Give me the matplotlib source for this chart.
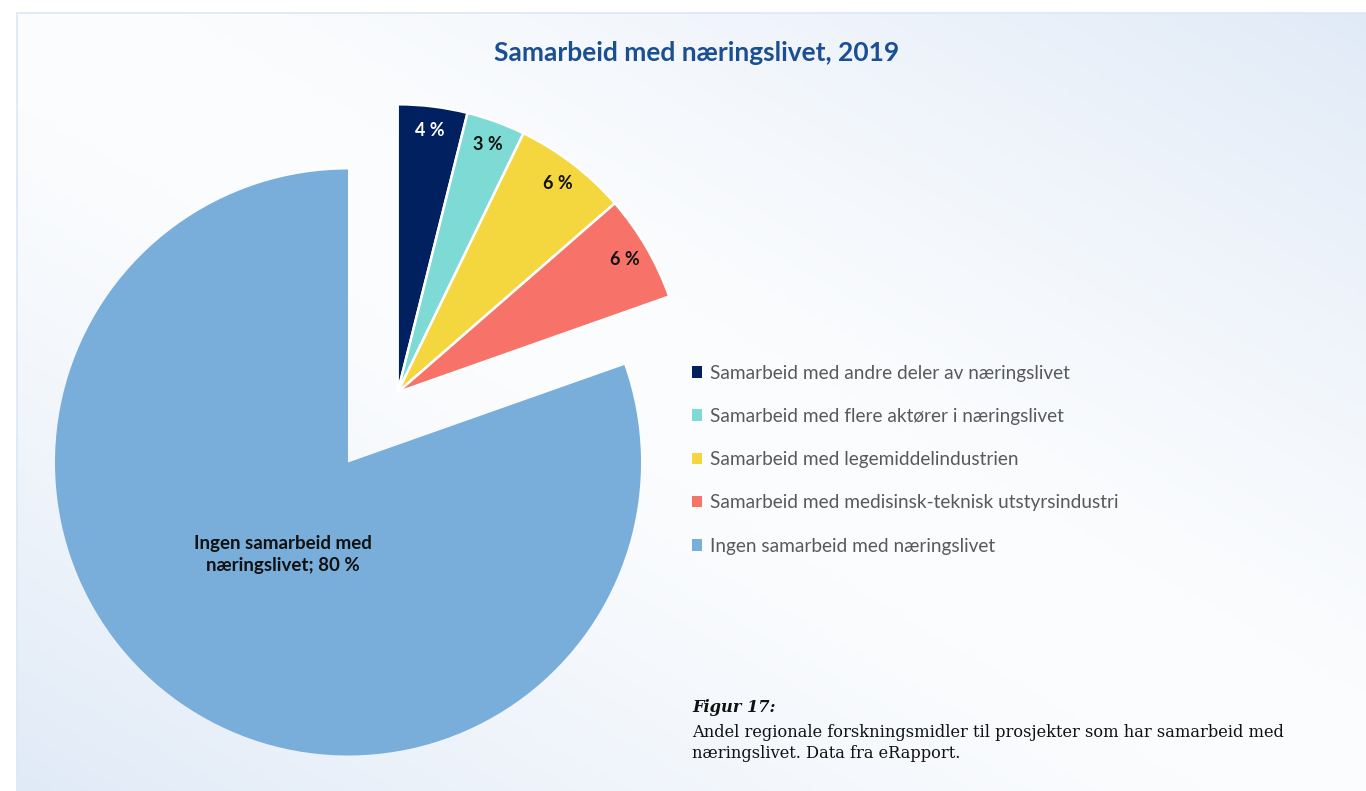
import numpy as np
import matplotlib
matplotlib.use("Agg")
import matplotlib.pyplot as plt
from matplotlib.patches import Patch, Rectangle

# data
categories = ["Samarbeid med andre deler av næringslivet",
              "Samarbeid med flere aktører i næringslivet",
              "Samarbeid med legemiddelindustrien",
              "Samarbeid med medisinsk-teknisk utstyrsindustri",
              "Ingen samarbeid med næringslivet"]
values = [3.9, 3.3, 6.4, 6.0, 80.4]
value_labels = ["4 %", "3 %", "6 %", "6 %", "Ingen samarbeid med\nnæringslivet; 80 %"]
colors = ["#002060", "#7ddad5", "#f4d63e", "#f7736a", "#78aed9"]
label_colors = ["white", "#111111", "#111111", "#111111", "#111111"]

W, H = 1366, 791
fig = plt.figure(figsize=(W / 100, H / 100), dpi=100)

# background gradient panel
bg = fig.add_axes([0, 0, 1, 1])
bg.set_xlim(0, W)
bg.set_ylim(0, H)
bg.axis("off")
yy, xx = np.mgrid[0:H:4, 0:W:4]
# top-right and bottom-left bluish, white band through the middle
u = ((W - xx) / W + (H - yy) / H) / 2.0
d = np.abs(2 * u - 1) ** 1.4
c0 = np.array([252, 253, 254]) / 255.0
c1 = np.array([224, 234, 247]) / 255.0
img = c0 + (c1 - c0) * d[..., None]
bg.imshow(img, extent=[17, W, 0, H - 13], origin="lower", aspect="auto", zorder=0)
bg.add_patch(Rectangle((17, -5), W, H - 13 + 5, fill=False, edgecolor="#dce7f5", lw=1.2, zorder=1))

ax = fig.add_axes([0, 0, 1, 1])
ax.set_xlim(0, W)
ax.set_ylim(0, H)
ax.patch.set_alpha(0)

radius = 293
center = (348, H - 462.5)
wedges, _ = ax.pie(values, colors=colors, startangle=90, counterclock=False,
                   radius=radius, center=center,
                   wedgeprops=dict(edgecolor="white", linewidth=1.8))
ax.set_xlim(0, W)
ax.set_ylim(0, H)
ax.axis("off")
wedges[4].set_linewidth(0)

# pull the four small slices out together along the group's middle angle
small = wedges[:4]
small_r = 288
g_lo = min(w.theta1 for w in small)
g_hi = max(w.theta2 for w in small)
g_mid = np.deg2rad((g_lo + g_hi) / 2)
shift = 86
off = np.array([np.cos(g_mid), np.sin(g_mid)]) * shift
for w in small:
    w.set_center((center[0] + off[0], center[1] + off[1]))
    w.set_radius(small_r)

for i, w in enumerate(wedges):
    mid = np.deg2rad((w.theta1 + w.theta2) / 2)
    cx, cy = w.center
    if i < 4:
        dist, fs = 0.915 * small_r, 13
    else:
        dist, fs = 0.385 * radius, 13.5
    ax.text(cx + dist * np.cos(mid), cy + dist * np.sin(mid),
            value_labels[i], ha="center", va="center", color=label_colors[i],
            fontsize=fs, fontweight="bold", family="Lato", linespacing=1.35)

fig.text(697 / W, 1 - 53 / H, "Samarbeid med næringslivet, 2019", ha="center", va="center",
         fontsize=19, fontweight="bold", color="#1b4f93", family="Lato")

handles = [Patch(facecolor=c, edgecolor="none") for c in colors]
leg = fig.legend(handles, categories, loc="upper left",
                 bbox_to_anchor=(684 / W, 1 - 357 / H), frameon=False,
                 fontsize=13.7, labelspacing=1.38, handlelength=0.55, handleheight=0.55,
                 handletextpad=0.4, borderaxespad=0)
for t in leg.get_texts():
    t.set_color("#595959")
    t.set_family("Lato")

fig.text(692 / W, 1 - 707 / H, "Figur 17:", ha="left", va="center", fontsize=11.7,
         fontweight="bold", fontstyle="italic", family="DejaVu Serif", color="#111111")
fig.text(692 / W, 1 - 743 / H,
         "Andel regionale forskningsmidler til prosjekter som har samarbeid med\nnæringslivet. Data fra eRapport.",
         ha="left", va="center", fontsize=11.7, family="DejaVu Serif", color="#111111",
         linespacing=1.25)

fig.savefig("out.png", dpi=100)
